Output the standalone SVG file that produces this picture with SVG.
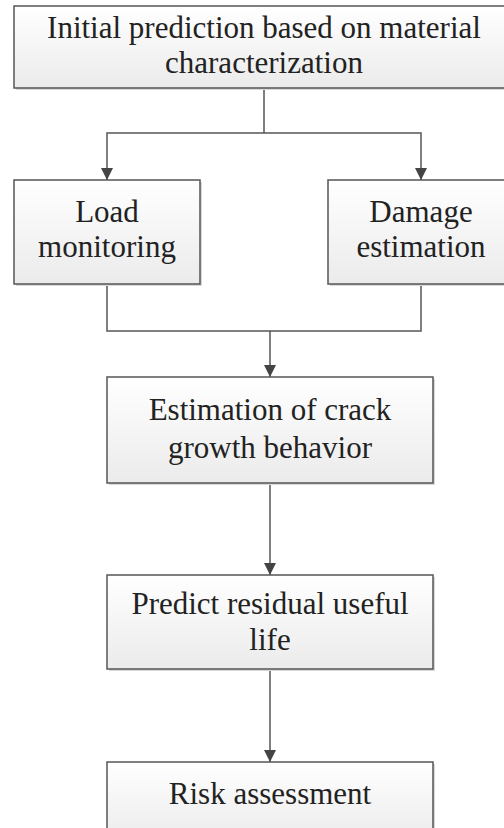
<svg xmlns="http://www.w3.org/2000/svg" width="504" height="828" viewBox="0 0 504 828">
<defs>
<linearGradient id="g" x1="0" y1="0" x2="0" y2="1">
<stop offset="0" stop-color="#ffffff"/>
<stop offset="1" stop-color="#ebebeb"/>
</linearGradient>
</defs>
<rect width="504" height="828" fill="#fff"/>
<g id="connectors" fill="none" stroke="#555" stroke-width="1.5">
<polyline points="264,88 264,133"/>
<polyline points="107,180 107,133 421,133 421,180"/>
<polyline points="107,284 107,331 421,331 421,284"/>
<line x1="270" y1="331" x2="270" y2="377"/>
<line x1="270" y1="483" x2="270" y2="575"/>
<line x1="270" y1="669" x2="270" y2="762"/>
<g fill="#444" stroke="none">
<path d="M101,168 L113,168 L107,180 z"/>
<path d="M415,168 L427,168 L421,180 z"/>
<path d="M264,365 L276,365 L270,377 z"/>
<path d="M264,563 L276,563 L270,575 z"/>
<path d="M264,750 L276,750 L270,762 z"/>
</g>
</g>
<g id="n1">
<rect fill="#d8d8d8" x="16" y="8" width="500" height="82"/>
<rect fill="url(#g)" stroke="#555" stroke-width="1.5" x="14" y="6" width="500" height="82"/>
<text x="264" y="38" font-family="Liberation Serif" font-size="31" fill="#222" text-anchor="middle">Initial prediction based on material</text>
<text x="264" y="73" font-family="Liberation Serif" font-size="31" fill="#222" text-anchor="middle">characterization</text>
</g>
<g id="n2">
<rect fill="#d8d8d8" x="16" y="182" width="186" height="104"/>
<rect fill="url(#g)" stroke="#555" stroke-width="1.5" x="14" y="180" width="186" height="104"/>
<text x="107" y="222" font-family="Liberation Serif" font-size="31" fill="#222" text-anchor="middle">Load</text>
<text x="107" y="257" font-family="Liberation Serif" font-size="31" fill="#222" text-anchor="middle">monitoring</text>
</g>
<g id="n3">
<rect fill="#d8d8d8" x="330" y="182" width="186" height="104"/>
<rect fill="url(#g)" stroke="#555" stroke-width="1.5" x="328" y="180" width="186" height="104"/>
<text x="421" y="222" font-family="Liberation Serif" font-size="31" fill="#222" text-anchor="middle">Damage</text>
<text x="421" y="257" font-family="Liberation Serif" font-size="31" fill="#222" text-anchor="middle">estimation</text>
</g>
<g id="n4">
<rect fill="#d8d8d8" x="109" y="379" width="326" height="106"/>
<rect fill="url(#g)" stroke="#555" stroke-width="1.5" x="107" y="377" width="326" height="106"/>
<text x="270" y="420" font-family="Liberation Serif" font-size="31" fill="#222" text-anchor="middle">Estimation of crack</text>
<text x="270" y="458" font-family="Liberation Serif" font-size="31" fill="#222" text-anchor="middle">growth behavior</text>
</g>
<g id="n5">
<rect fill="#d8d8d8" x="109" y="577" width="326" height="94"/>
<rect fill="url(#g)" stroke="#555" stroke-width="1.5" x="107" y="575" width="326" height="94"/>
<text x="270" y="614" font-family="Liberation Serif" font-size="31" fill="#222" text-anchor="middle">Predict residual useful</text>
<text x="270" y="650" font-family="Liberation Serif" font-size="31" fill="#222" text-anchor="middle">life</text>
</g>
<g id="n6">
<rect fill="#d8d8d8" x="109" y="764" width="326" height="80"/>
<rect fill="url(#g)" stroke="#555" stroke-width="1.5" x="107" y="762" width="326" height="80"/>
<text x="270" y="804" font-family="Liberation Serif" font-size="31" fill="#222" text-anchor="middle">Risk assessment</text>
</g>
</svg>
